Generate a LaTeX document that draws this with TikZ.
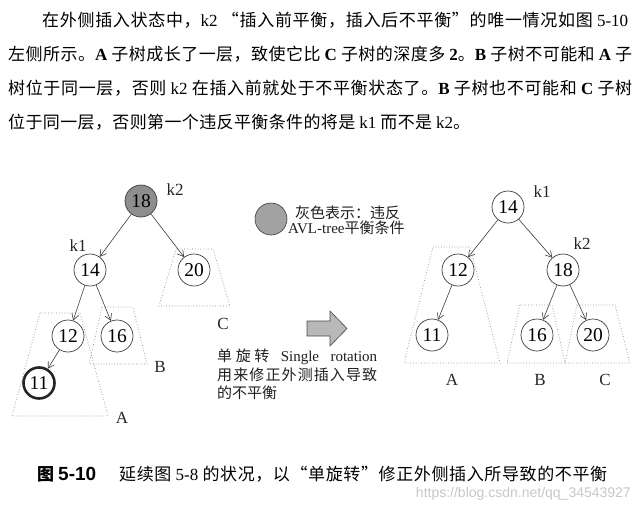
\documentclass[tikz,border=0pt]{standalone}
\usepackage{fontspec}
\setmainfont{Liberation Serif}
\newfontfamily\cjk{Noto Sans CJK SC}
\newfontfamily\hsans{Liberation Sans}
\usetikzlibrary{arrows.meta}
\XeTeXinterchartokenstate=1
\newXeTeXintercharclass\mycjkclass
\newcount\cjkcnt
\cjkcnt="4E00
\loop
  \XeTeXcharclass\cjkcnt=\mycjkclass
  \advance\cjkcnt by 1
\ifnum\cjkcnt<"A000 \repeat
\XeTeXcharclass"3001=\mycjkclass
\XeTeXcharclass"3002=\mycjkclass
\XeTeXcharclass"FF0C=\mycjkclass
\XeTeXcharclass"FF1A=\mycjkclass
\XeTeXcharclass"201C=\mycjkclass
\XeTeXcharclass"201D=\mycjkclass
\newcommand\cjkglue{\hskip 0pt plus 3pt minus 0.5pt\relax}
\XeTeXinterchartoks\mycjkclass\mycjkclass={\cjkglue}
\hbadness=10000
\hfuzz=30pt
\newcommand\latw[1]{{\rmfamily #1}}
\newcommand\latb[1]{{\rmfamily\bfseries #1}}
\newcommand\spreadto[2]{\hbox to #1{#2}}
\definecolor{linec}{HTML}{3C3C3C}
\definecolor{nodegray}{HTML}{8E8E8E}
\definecolor{legendgray}{HTML}{A2A2A2}
\definecolor{dotc}{HTML}{8A8A8A}
\definecolor{arrowgray}{HTML}{B8B8B8}
\definecolor{wmark}{HTML}{C8C8C8}
\tikzset{
  pline/.style={anchor=west, inner sep=0pt, font=\cjk\fontsize{17}{20}\selectfont},
  spline/.style={anchor=west, inner sep=0pt, font=\cjk\fontsize{15}{18}\selectfont, text=black!88},
  tn/.style={circle, draw=linec, line width=0.7pt, minimum size=32pt, inner sep=0pt, font=\fontsize{19.5}{19.5}\selectfont, fill=white},
  gn/.style={tn, fill=nodegray},
  hn/.style={tn, line width=2.6pt, draw=black!85, minimum size=31pt},
  edge/.style={draw=linec, line width=0.6pt, -{Straight Barb[length=6pt,width=7pt]}},
  subtree/.style={draw=dotc, dotted, line width=0.7pt},
  lbl/.style={font=\fontsize{17}{17}\selectfont, inner sep=0pt, text=black!85},
}
\begin{document}
\begin{tikzpicture}[x=1pt, y=-1pt]
\useasboundingbox (0,0) rectangle (639,511);
\fill[white] (0,0) rectangle (639,511);

% paragraph
\node[pline] (p1) at (42,20) {\spreadto{586pt}{在外侧插入状态中，\latw{k2} “插入前平衡，插入后不平衡”的唯一情况如图 \latw{5-10}}};
\node[pline] (p2) at (8,54) {\spreadto{624pt}{左侧所示。\latb{A} 子树成长了一层，致使它比 \latb{C} 子树的深度多 \latb{2}。\latb{B} 子树不可能和 \latb{A} 子}};
\node[pline] (p3) at (8,88) {\spreadto{624pt}{树位于同一层，否则 \latw{k2} 在插入前就处于不平衡状态了。\latb{B} 子树也不可能和 \latb{C} 子树}};
\node[pline] (p4) at (8,122) {\spreadto{462pt}{位于同一层，否则第一个违反平衡条件的将是 \latw{k1} 而不是 \latw{k2}。}};

% left subtrees
\draw[subtree] (176,249) -- (213,249) -- (230,306) -- (159,306) -- cycle;
\draw[subtree] (40,313) -- (80,313) -- (108,416) -- (12,416) -- cycle;
\draw[subtree] (102,307) -- (133,307) -- (147,364) -- (89,364) -- cycle;

% left tree
\node[gn] (a18) at (141,201) {18};
\node[tn] (a14) at (90,270) {14};
\node[tn] (a20) at (194,270) {20};
\node[tn] (a12) at (68,336) {12};
\node[tn] (a16) at (117,336) {16};
\node[hn] (a11) at (39,383) {11};
\draw[edge] (a18) -- (a14);
\draw[edge] (a18) -- (a20);
\draw[edge] (a14) -- (a12);
\draw[edge] (a14) -- (a16);
\draw[edge] (a12) -- (a11);
\node[lbl] (ak2) at (175,190) {k2};
\node[lbl] (ak1) at (78,246) {k1};
\node[lbl] (aC) at (223,324) {C};
\node[lbl] (aB) at (160,367) {B};
\node[lbl] (aA) at (122,418) {A};

% legend
\node[circle, fill=legendgray, draw=linec, line width=0.6pt, minimum size=32pt, inner sep=0pt] (leg) at (271,219) {};
\node[spline] (l1) at (295,213) {灰色表示：违反};
\node[spline] (l2) at (288,228) {\latw{AVL-tree}平衡条件};

% block arrow
\draw[fill=arrowgray, draw=black!70, line width=0.6pt] (307,321) -- (330,321) -- (330,311) -- (347,328.5) -- (330,346) -- (330,336) -- (307,336) -- cycle;

% rotation text
\node[spline] (r1) at (217,357) {\spreadto{160pt}{单旋转\hskip 9pt plus 2pt\latw{Single}\hskip 9pt plus 2pt\latw{rotation}}};
\node[spline] (r2) at (217,375) {\spreadto{160pt}{用来修正外测插入导致}};
\node[spline] (r3) at (217,393) {的不平衡};

% right subtrees
\draw[subtree] (433,247) -- (470,247) -- (500,363) -- (404,363) -- cycle;
\draw[subtree] (520,305) -- (552,305) -- (565,363) -- (507,363) -- cycle;
\draw[subtree] (577,305) -- (615,305) -- (630,363) -- (565,363) -- cycle;

% right tree
\node[tn] (b14) at (508,207) {14};
\node[tn] (b12) at (458,270) {12};
\node[tn] (b18) at (563,270) {18};
\node[tn] (b11) at (432,335) {11};
\node[tn] (b16) at (537,335) {16};
\node[tn] (b20) at (593,335) {20};
\draw[edge] (b14) -- (b12);
\draw[edge] (b14) -- (b18);
\draw[edge] (b12) -- (b11);
\draw[edge] (b18) -- (b16);
\draw[edge] (b18) -- (b20);
\node[lbl] (bk1) at (542,192) {k1};
\node[lbl] (bk2) at (582,244) {k2};
\node[lbl] (bA) at (452,380) {A};
\node[lbl] (bB) at (540,380) {B};
\node[lbl] (bC) at (605,380) {C};

% caption
\node[anchor=west, inner sep=0pt, font=\cjk\bfseries\fontsize{17}{20}\selectfont] (c1) at (37,474) {图};
\node[anchor=west, inner sep=0pt, font=\hsans\bfseries\fontsize{19}{20}\selectfont] (c2) at (58,474) {5-10};
\node[pline] (c3) at (119,474) {\spreadto{488pt}{延续图 \latw{5-8} 的状况，以“单旋转”修正外侧插入所导致的不平衡}};
\node[anchor=east, inner sep=0pt, font=\hsans\fontsize{14}{16}\selectfont, text=wmark] (wm) at (631,494) {https://blog.csdn.net/qq\_34543927};
\end{tikzpicture}
\end{document}
